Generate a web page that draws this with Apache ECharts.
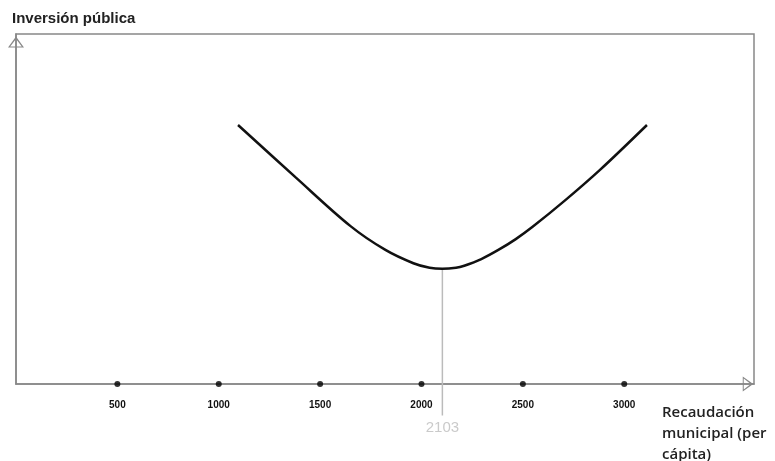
<!DOCTYPE html>
<html>
<head>
<meta charset="utf-8">
<script src="https://cdn.jsdelivr.net/npm/echarts@6/dist/echarts.min.js"></script>
<style>html,body{margin:0;padding:0;background:#fff;}#c{width:775px;height:461px;}</style>
</head>
<body>
<div id="c"></div>
<script>
const yTitle = 'Inversión pública';
const xTitle = 'Recaudación\nmunicipal (per\ncápita)';
const curveX = [1095, 1378, 1650, 1822, 1960, 2040, 2103, 2170, 2211, 2295, 2379, 2465, 2548, 2711, 2879, 3112];
const curveY = [74.0, 59.1, 45.1, 38.3, 34.5, 33.2, 32.9, 33.2, 33.8, 35.7, 38.3, 41.4, 44.9, 52.6, 61.1, 74.0];
const tickValues = [500, 1000, 1500, 2000, 2500, 3000];
const minX = 2103;
const minY = 32.9;
const dropToY = -9;
const xMax = 3640;
const yMax = 100;

const chart = echarts.init(document.getElementById('c'));
const openTri = 'path://M0,0 L10,14 L-10,14 Z M0,3.4 L-7.2,12.7 L7.2,12.7 Z';
chart.setOption({
  animation: false,
  backgroundColor: '#fff',
  title: [
    { text: yTitle, left: 7, top: 6, textStyle: { fontFamily: 'Liberation Sans', fontSize: 15, fontWeight: 'bold', color: '#222' } },
    { text: xTitle, left: 657, top: 397, textStyle: { fontFamily: 'Open Sans', fontSize: 15, fontWeight: 600, color: '#222', lineHeight: 21 } }
  ],
  grid: { left: 16, right: 21, top: 34, bottom: 77, show: true, borderColor: '#888', borderWidth: 1.5, backgroundColor: 'transparent' },
  xAxis: {
    type: 'value', min: 0, max: xMax, interval: 500,
    axisLine: { show: true, lineStyle: { color: '#888', width: 1.5 }, symbol: ['none', openTri], symbolSize: [15, 14], symbolOffset: [0, -6] },
    axisTick: { show: false },
    splitLine: { show: false },
    axisLabel: {
      margin: 16, fontFamily: 'Liberation Sans Narrow, Liberation Sans', fontSize: 10, fontWeight: 'bold', color: '#111',
      formatter: v => tickValues.includes(v) ? String(v) : ''
    }
  },
  yAxis: {
    type: 'value', min: 0, max: yMax,
    axisLine: { show: true, lineStyle: { color: '#888', width: 1.5 }, symbol: ['none', openTri], symbolSize: [16, 14], symbolOffset: [0, -8] },
    axisTick: { show: false }, axisLabel: { show: false }, splitLine: { show: false }
  },
  series: [
    {
      type: 'line', showSymbol: false, clip: false, silent: true,
      data: [[minX, minY], [minX, dropToY]],
      lineStyle: { color: '#bbb', width: 1.5 },
      z: 2
    },
    {
      type: 'scatter', clip: false, silent: true, symbol: 'circle', symbolSize: 1,
      itemStyle: { color: 'rgba(0,0,0,0)' },
      label: { show: true, position: 'bottom', distance: 4, formatter: String(minX), color: '#bdbdbd', fontFamily: 'Liberation Sans', fontSize: 15 },
      data: [[minX, dropToY]], z: 2
    },
    {
      type: 'line', smooth: 0.35, showSymbol: false, clip: false,
      data: curveX.map((x, i) => [x, curveY[i]]),
      lineStyle: { color: '#111', width: 2.5 },
      z: 3
    },
    {
      type: 'scatter', clip: false, symbol: 'circle', symbolSize: 6,
      itemStyle: { color: '#000' },
      data: tickValues.map(v => [v, 0]), z: 4
    }
  ]
});
</script>
</body>
</html>
